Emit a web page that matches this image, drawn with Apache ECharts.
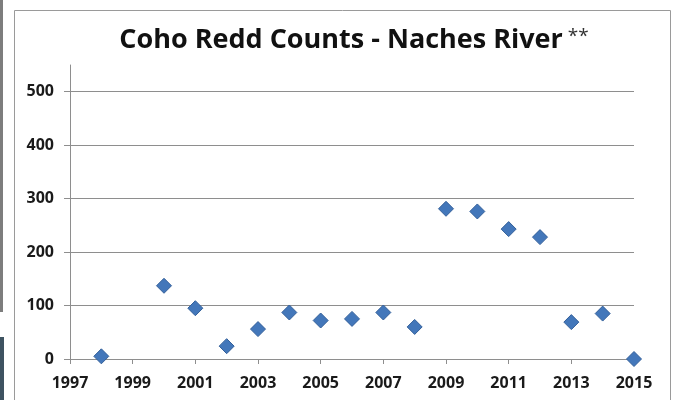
<!DOCTYPE html>
<html>
<head>
<meta charset="utf-8">
<script src="https://cdn.jsdelivr.net/npm/echarts@6/dist/echarts.min.js"></script>
<style>
  html, body { margin: 0; padding: 0; background: #ffffff; }
  #chart { width: 675px; height: 400px; }
</style>
</head>
<body>
<div id="chart"></div>
<script>
// Coho redd counts by survey year, Naches River
const years  = [1998, 2000, 2001, 2002, 2003, 2004, 2005, 2006, 2007, 2008, 2009, 2010, 2011, 2012, 2013, 2014, 2015];
const redds  = [5, 137, 95, 24, 56, 87, 72, 75, 87, 60, 281, 276, 243, 228, 69, 85, 0];

// Axis settings
const xRange = [1997, 2015];
const xStep = 2;
const yRange = [0, 550];
const yStep = 100;

const points = years.map((y, i) => [y, redds[i]]);

const chart = echarts.init(document.getElementById('chart'), null, { renderer: 'canvas' });

const gridColor = '#8e8e8e';
const labelFont = { fontFamily: 'Open Sans', fontWeight: 'bold', fontSize: 16, color: '#1a1a1a' };

chart.setOption({
  backgroundColor: '#ffffff',
  animation: false,
  title: {
    text: '{main|Coho Redd Counts - Naches River}{star| **}',
    left: 349,
    textAlign: 'center',
    top: 22,
    textStyle: {
      rich: {
        main: { fontFamily: 'Open Sans', fontWeight: 'bold', fontSize: 27, color: '#111111' },
        star: { fontFamily: 'Open Sans', fontWeight: 'normal', fontSize: 19, color: '#333333', verticalAlign: 'top', padding: [0, 0, 8, 0] }
      }
    }
  },
  graphic: [
    // chart frame
    { type: 'rect', shape: { x: 14.5, y: 10.5, width: 656, height: 400 }, style: { fill: 'none', stroke: '#9a9a9a', lineWidth: 1 }, silent: true, z: -1 },
    // slide edge strips on the left
    { type: 'rect', shape: { x: 0, y: 0, width: 3, height: 312 }, style: { fill: '#7d7d7d' }, silent: true },
    { type: 'rect', shape: { x: 0, y: 337, width: 4, height: 63 }, style: { fill: '#3e5361' }, silent: true }
  ],
  grid: { left: 70, right: 41, top: 65, bottom: 41, containLabel: false },
  xAxis: {
    type: 'value',
    min: xRange[0],
    max: xRange[1],
    interval: xStep,
    axisLine: { show: true, onZero: false, lineStyle: { color: gridColor, width: 1 } },
    axisTick: { show: true, inside: false, length: 5, lineStyle: { color: gridColor } },
    axisLabel: Object.assign({ margin: 16, formatter: v => String(v) }, labelFont),
    splitLine: { show: false }
  },
  yAxis: {
    type: 'value',
    min: yRange[0],
    max: yRange[1],
    interval: yStep,
    axisLine: { show: true, lineStyle: { color: gridColor, width: 1 } },
    axisTick: { show: true, inside: false, length: 6, lineStyle: { color: gridColor } },
    axisLabel: Object.assign({ margin: 16, showMaxLabel: false, formatter: v => (v > 500 ? '' : String(v)) }, labelFont),
    splitLine: {
      show: true,
      lineStyle: { color: [gridColor, gridColor, gridColor, gridColor, gridColor, gridColor, 'rgba(0,0,0,0)'], width: 1 }
    }
  },
  series: [{
    type: 'scatter',
    data: points,
    symbol: 'diamond',
    symbolSize: 15,
    itemStyle: { color: '#4377ba', borderColor: '#34609a', borderWidth: 1, opacity: 1 },
    clip: false
  }]
});
</script>
</body>
</html>
